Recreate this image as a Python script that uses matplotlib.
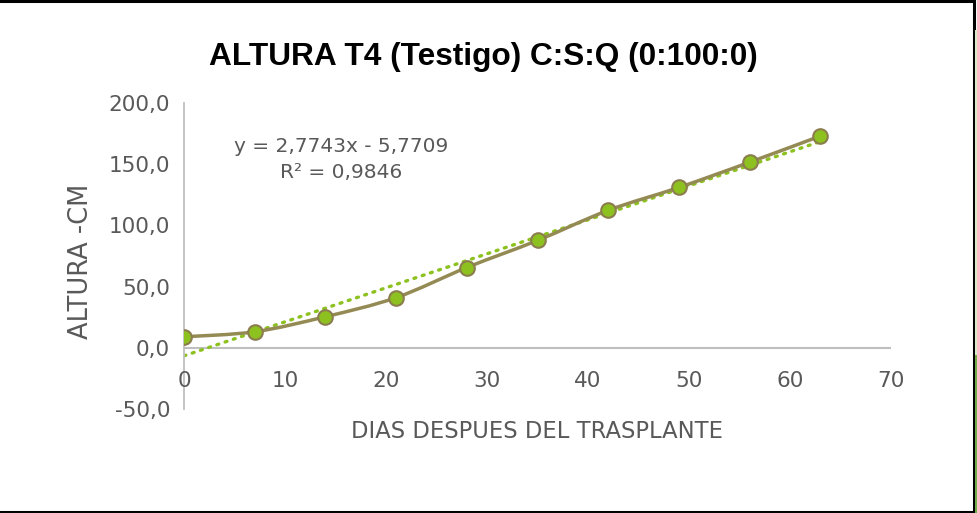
import matplotlib.pyplot as plt
import matplotlib.transforms as mtrans
from matplotlib.path import Path
from matplotlib.patches import PathPatch, Rectangle
import numpy as np

# datos (días después del trasplante, altura en cm)
dias = [0, 7, 14, 21, 28, 35, 42, 49, 56, 63]
altura = [9.0, 13.1, 25.4, 41.0, 65.6, 87.7, 112.3, 131.0, 151.6, 173.0]
x_ticks = [0, 10, 20, 30, 40, 50, 60, 70]
y_ticks = [-50, 0, 50, 100, 150, 200]

titulo = 'ALTURA T4 (Testigo) C:S:Q (0:100:0)'
ecuacion = 'y = 2,7743x - 5,7709'
r2 = 'R² = 0,9846'

gris = '#595959'
linea_eje = '#BFBFBF'
oliva = '#948A54'
verde = '#8CC11F'
borde_marcador = '#8B7D4E'

fig = plt.figure(figsize=(9.78, 5.13), dpi=100)
ax = fig.add_axes([184 / 978, 104 / 513, 707 / 978, 306 / 513])
ax.set_xlim(0, 70)
ax.set_ylim(-50, 200)

# curva suavizada (estilo Excel) con Bezier tipo Catmull-Rom
px = np.array(dias, float)
py = np.array(altura, float)
verts = [(px[0], py[0])]
codes = [Path.MOVETO]
t = 1 / 6
n = len(px)
for i in range(n - 1):
    p0 = (px[max(i - 1, 0)], py[max(i - 1, 0)])
    p1 = (px[i], py[i])
    p2 = (px[i + 1], py[i + 1])
    p3 = (px[min(i + 2, n - 1)], py[min(i + 2, n - 1)])
    c1 = (p1[0] + (p2[0] - p0[0]) * t, p1[1] + (p2[1] - p0[1]) * t)
    c2 = (p2[0] - (p3[0] - p1[0]) * t, p2[1] - (p3[1] - p1[1]) * t)
    verts += [c1, c2, p2]
    codes += [Path.CURVE4] * 3
ax.add_patch(PathPatch(Path(verts, codes), facecolor='none', edgecolor=oliva,
                       lw=2.5, zorder=3, capstyle='round'))

# línea de tendencia lineal
m, b = np.polyfit(px, py, 1)
xt = np.array([px[0], px[-1]])
ax.plot(xt, m * xt + b, color=verde, lw=2.4, ls=(0, (0.6, 2.0)),
        dash_capstyle='round', zorder=2)

ax.plot(dias, altura, 'o', ms=10.5, mfc=verde, mec=borde_marcador, mew=1.5, zorder=4)

# ejes
for s in ['top', 'right', 'bottom']:
    ax.spines[s].set_visible(False)
ax.spines['left'].set_position(('data', 0))
ax.spines['left'].set_color(linea_eje)
ax.spines['left'].set_linewidth(1.3)
ax.axhline(0, color=linea_eje, lw=1.5, zorder=1)

fuente = ['DejaVu Sans']
ax.set_xticks(x_ticks)
ax.set_yticks(y_ticks)
ax.set_xticklabels([])
ax.set_yticklabels([f'{v:.1f}'.replace('.', ',') for v in y_ticks],
                   family=fuente, fontsize=15.5, color=gris)
ax.tick_params(axis='both', length=0)
ax.tick_params(axis='y', pad=10)

# etiquetas del eje x justo debajo de la línea y=0
off = mtrans.offset_copy(ax.transData, fig=fig, x=0, y=-33, units='dots')
for v in x_ticks:
    ax.text(v, 0, str(v), transform=off, ha='center', va='center',
            family=fuente, fontsize=15.5, color=gris)

fig.text(537 / 978, 1 - 432 / 513, 'DIAS DESPUES DEL TRASPLANTE', ha='center', va='center',
         family=fuente, fontsize=16.3, color=gris)
fig.text(81 / 978, 1 - 261 / 513, 'ALTURA -CM', ha='center', va='center', rotation=90,
         family=fuente, fontsize=18.5, color=gris)
fig.text(483 / 978, 1 - 57 / 513, titulo, ha='center', va='center',
         family=['Liberation Sans', 'DejaVu Sans'], fontweight='bold',
         fontsize=22.8, color='black')
fig.text(341 / 978, 1 - 147 / 513, ecuacion, ha='center', va='center',
         family=fuente, fontsize=14.5, color=gris)
fig.text(341 / 978, 1 - 173 / 513, r2, ha='center', va='center',
         family=fuente, fontsize=14.5, color=gris)

# marco
fig.patches.append(Rectangle((-2 / 978, 1 / 513), 976 / 978, 511 / 513, transform=fig.transFigure,
                             fill=False, edgecolor='black', lw=2.2))
fig.patches.append(Rectangle((975.5 / 978, 0), 2.5 / 978, 158 / 513, transform=fig.transFigure,
                             facecolor='#70AD47', edgecolor='none'))
fig.patches.append(Rectangle((975.5 / 978, 158 / 513), 2.5 / 978, 325 / 513, transform=fig.transFigure,
                             facecolor='#D9EAC9', edgecolor='none'))

fig.savefig('out.png', dpi=100)
